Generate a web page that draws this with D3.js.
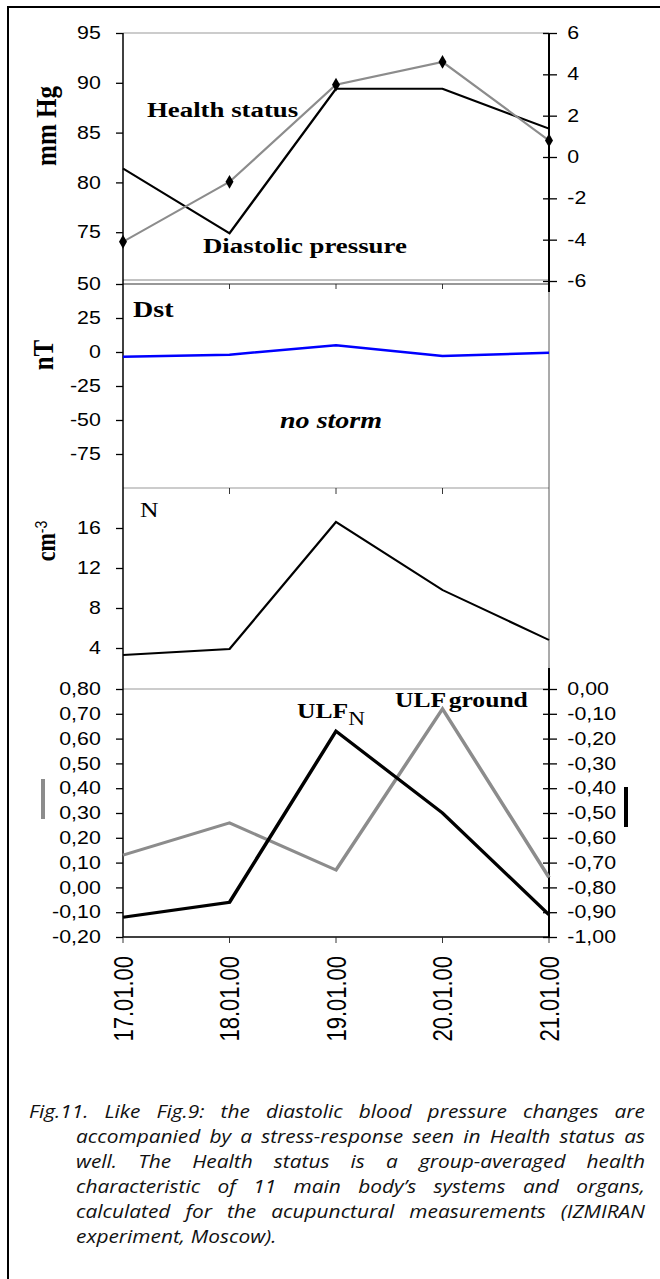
<!DOCTYPE html>
<html>
<head>
<meta charset="utf-8">
<script src="https://cdn.jsdelivr.net/npm/d3@7"></script>
<style>
  body { margin: 0; background: #fff; }
  svg { display: block; }
</style>
</head>
<body>
<svg id="chart" width="660" height="1279"></svg>
<script>
// data
var dates = ["17.01.00", "18.01.00", "19.01.00", "20.01.00", "21.01.00"];
var diastolic = [81.4, 74.9, 89.4, 89.4, 85.4];     // mm Hg, left axis (black)
var health = [-4.1, -1.2, 3.5, 4.6, 0.8];           // health status, right axis (gray, diamonds)
var dst = [-3.5, -2, 5, -3, -0.5];                  // nT
var nDens = [3.3, 3.9, 16.6, 9.8, 4.8];             // cm-3
var ulfGround = [0.13, 0.26, 0.07, 0.72, 0.04];     // left axis (gray)
var ulfN = [-0.92, -0.86, -0.17, -0.50, -0.91];     // right axis (black)

var mmTicks = [75, 80, 85, 90, 95];
var healthTicks = [-6, -4, -2, 0, 2, 4, 6];
var dstTicks = [-75, -50, -25, 0, 25, 50];
var nTicks = [4, 8, 12, 16];
var ulfLeftTicks = [-0.2, -0.1, 0, 0.1, 0.2, 0.3, 0.4, 0.5, 0.6, 0.7, 0.8];
var ulfRightTicks = [-1, -0.9, -0.8, -0.7, -0.6, -0.5, -0.4, -0.3, -0.2, -0.1, 0];

var captionLines = [
  "Fig.11. Like Fig.9: the diastolic blood pressure changes are",
  "accompanied by a stress-response seen in Health status as",
  "well. The Health status is a group-averaged health",
  "characteristic of 11 main body\u2019s systems and organs,",
  "calculated for the acupunctural measurements (IZMIRAN",
  "experiment, Moscow)."
];

var sx = 1.22;   // the original chart is stretched sideways
var svg = d3.select("#chart");

// outer frame (open on right/bottom)
svg.append("path").attr("d", "M8,1279V7H660")
  .attr("fill", "none").attr("stroke", "#000").attr("stroke-width", 2);

var g = svg.append("g").attr("transform", "scale(" + sx + ",1)");

var x = d3.scalePoint().domain(dates).range([123 / sx, 549 / sx]);
var yMm = d3.scaleLinear().domain([70, 95]).range([282, 33]);
var yHs = d3.scaleLinear().domain([-6, 6]).range([281, 33]);
var yDst = d3.scaleLinear().domain([-100, 50]).range([488, 284]);
var yN = d3.scaleLinear().domain([0, 20]).range([688, 488]);
var yUl = d3.scaleLinear().domain([-0.2, 0.8]).range([937, 689]);
var yUr = d3.scaleLinear().domain([-1, 0]).range([937, 689]);

var x0 = 123 / sx, x1 = 549 / sx;
var sansFont = "'Liberation Sans', Arial, sans-serif";
var serifFont = "'Liberation Serif', 'Times New Roman', serif";

function hline(y, color, w) {
  g.append("line").attr("x1", x0).attr("x2", x1).attr("y1", y).attr("y2", y)
    .attr("stroke", color).attr("stroke-width", w);
}
function catTicks(y, len, cats) {
  g.selectAll(null).data(cats).enter().append("line")
    .attr("x1", function(d) { return x(d); }).attr("x2", function(d) { return x(d); })
    .attr("y1", y).attr("y2", y + len)
    .attr("stroke", "#222").attr("stroke-width", 1 / sx);
}

// panel borders
hline(33, "#999", 1);
hline(280, "#888", 1);
hline(284, "#333", 1.2);
catTicks(284, 5, dates.slice(1, 4));
hline(488, "#999", 1);
catTicks(488, 6, dates.slice(1, 4));
hline(689, "#999", 1);
hline(937, "#000", 1.5);
catTicks(937, 6, dates);

// right border line
g.append("line").attr("x1", x1).attr("x2", x1).attr("y1", 33).attr("y2", 937)
  .attr("stroke", "#444").attr("stroke-width", 1 / sx);

function leftAxis(scale, ticks, fmt) {
  var a = g.append("g").attr("transform", "translate(" + x0 + ",0)")
    .call(d3.axisLeft(scale).tickValues(ticks).tickFormat(fmt)
      .tickSize(7 / sx).tickPadding(12.5));
  a.select(".domain").remove();
  a.selectAll("line").attr("stroke", "#000").attr("stroke-width", 1.3);
  a.selectAll("text").style("font-family", sansFont).style("font-size", "17.5px").attr("fill", "#000");
  return a;
}
function rightAxis(scale, ticks, fmt, yTop, yBot) {
  var a = g.append("g").attr("transform", "translate(" + x1 + ",0)")
    .call(d3.axisRight(scale).tickValues(ticks).tickFormat(fmt)
      .tickSize(8 / sx).tickPadding(8.5));
  a.select(".domain").remove();
  a.selectAll(".tick line").attr("x1", -6 / sx).attr("stroke", "#000").attr("stroke-width", 1.3);
  a.selectAll("text").style("font-family", sansFont).style("font-size", "17.5px").attr("fill", "#000");
  a.append("line").attr("x1", 0).attr("x2", 0).attr("y1", yTop).attr("y2", yBot)
    .attr("stroke", "#000").attr("stroke-width", 2 / sx);
  return a;
}
var comma = function(d) { return d.toFixed(2).replace(".", ","); };
var plain = function(d) { return String(d); };

leftAxis(yMm, mmTicks, plain);
leftAxis(yDst, dstTicks, plain);
leftAxis(yN, nTicks, plain);
leftAxis(yUl, ulfLeftTicks, comma);
rightAxis(yHs, healthTicks, plain, 33, 292);
rightAxis(yUr, ulfRightTicks, comma, 668, 937);

// left axis line
g.append("line").attr("x1", x0).attr("x2", x0).attr("y1", 33).attr("y2", 937)
  .attr("stroke", "#000").attr("stroke-width", 1.5 / sx);

// series
function drawLine(values, yScale, color, width) {
  var line = d3.line()
    .x(function(d, i) { return x(dates[i]); })
    .y(function(d) { return yScale(d); });
  g.append("path").datum(values).attr("d", line)
    .attr("fill", "none").attr("stroke", color).attr("stroke-width", width)
    .attr("stroke-linejoin", "miter");
}
drawLine(diastolic, yMm, "#000", 2);
drawLine(health, yHs, "#8c8c8c", 2);
g.selectAll(null).data(health).enter().append("path")
  .attr("d", d3.symbol().type(d3.symbolDiamond).size(55))
  .attr("transform", function(d, i) { return "translate(" + x(dates[i]) + "," + yHs(d) + ") scale(" + (1 / sx) + ",1)"; })
  .attr("fill", "#000");
drawLine(dst, yDst, "#0000ff", 2.5);
drawLine(nDens, yN, "#000", 2);
drawLine(ulfGround, yUl, "#8c8c8c", 3);
drawLine(ulfN, yUr, "#000", 3);

// category labels
g.selectAll(null).data(dates).enter().append("text")
  .attr("transform", function(d) { return "translate(" + x(d) + ",956) rotate(-90)"; })
  .attr("text-anchor", "end").attr("dy", "0.36em")
  .style("font-family", sansFont).style("font-size", "22px")
  .text(function(d) { return d; });

// axis titles
function vTitle(cx, cy, size) {
  return g.append("text")
    .attr("transform", "translate(" + (cx / sx) + "," + cy + ") rotate(-90)")
    .attr("text-anchor", "middle").attr("dy", "0.35em")
    .style("font-family", serifFont).style("font-weight", "bold").style("font-size", size + "px");
}
vTitle(45, 126, 25).text("mm Hg");
vTitle(42, 355, 25).text("nT");
var cm = vTitle(46, 541, 22);
cm.append("tspan").text("cm");
cm.append("tspan").attr("baseline-shift", "super").style("font-weight", "normal")
  .style("font-family", sansFont).style("font-size", "14px").text("-3");

// in-plot labels
function label(px, py, size, weight, style) {
  return g.append("text").attr("x", px / sx).attr("y", py)
    .style("font-family", serifFont).style("font-size", size + "px")
    .style("font-weight", weight).style("font-style", style || "normal");
}
label(147, 117, 22, "bold").text("Health status");
label(203, 253, 22, "bold").text("Diastolic pressure");
label(133, 317, 23, "bold").text("Dst");
label(280, 428, 23, "bold", "italic").text("no storm");
label(140, 517, 21, "normal").text("N");
var ulfn = label(297, 718, 21, "bold");
ulfn.append("tspan").text("ULF");
ulfn.append("tspan").attr("dy", 7).style("font-weight", "normal").style("font-size", "19px").text("N");
var ulfg = label(395, 707, 21, "bold");
ulfg.append("tspan").text("ULF");
ulfg.append("tspan").attr("dx", 2).text("ground");

// legend bars beside the ULF axes
g.append("rect").attr("x", 41 / sx).attr("y", 779).attr("width", 4 / sx).attr("height", 40).attr("fill", "#8c8c8c");
g.append("rect").attr("x", 624 / sx).attr("y", 787).attr("width", 4 / sx).attr("height", 40).attr("fill", "#000");

// caption, justified (slightly widened glyphs)
var cs = 1.16;
var cap = svg.append("g")
  .style("font-family", "'Open Sans', sans-serif")
  .style("font-style", "italic").style("font-size", "18px").attr("fill", "#111");
captionLines.forEach(function(txt, li) {
  var left = (li === 0 ? 29 : 76) / cs, right = 645 / cs, yb = 1118 + li * 25;
  var t = cap.append("text").attr("y", yb).attr("transform", "scale(" + cs + ",1)");
  var spans = txt.split(" ").map(function(w) { return t.append("tspan").text(w); });
  var widths = spans.map(function(s) { return s.node().getComputedTextLength(); });
  var total = d3.sum(widths);
  var gap = li < captionLines.length - 1 ? (right - left - total) / (spans.length - 1) : 5;
  var cx = left;
  spans.forEach(function(s, i) { s.attr("x", cx); cx += widths[i] + gap; });
});
</script>
</body>
</html>
